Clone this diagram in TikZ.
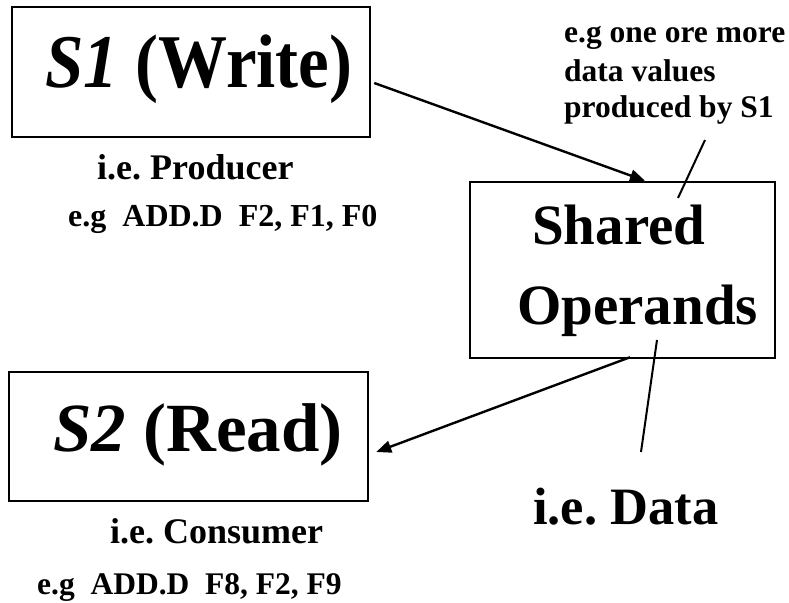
\documentclass[tikz,border=0pt]{standalone}
\usepackage{fontspec}
\setmainfont{Liberation Serif}
\usetikzlibrary{arrows.meta}
\frenchspacing
\tikzset{
  boxnode/.style={draw=black, line width=2.5pt, inner sep=0pt, rectangle},
  txt/.style={anchor=base west, inner sep=0pt, font=\bfseries},
  arr/.style={line width=2.4pt, -{Triangle[length=15pt,width=12pt]}},
  pointer/.style={line width=2pt}
}
\newcommand{\fs}[1]{\fontsize{#1}{#1}\selectfont}
\begin{document}
\begin{tikzpicture}[x=1pt,y=1pt]
\useasboundingbox (0,0) rectangle (789,602);
% boxes
\node[boxnode, minimum width=358pt, minimum height=130pt] (s1) at (191,530) {};
\node[boxnode, minimum width=305pt, minimum height=176pt] (sh) at (622.5,332) {};
\node[boxnode, minimum width=359pt, minimum height=129pt] (s2) at (188.5,165.5) {};
% texts
\node[txt] (s1t) at (45,514) {\fs{69}\scalebox{1}[1.1]{\textit{S1} (Write)}};
\node[txt] (prod) at (97,422) {\fs{36}i.e. Producer};
\node[txt] (eg1) at (68,375) {\fs{32}e.g\ \ ADD.D\ \ F2, F1, F0};
\node[txt] (ann1) at (564,559) {\fs{31.5}e.g one ore more};
\node[txt] (ann2) at (564,520) {\fs{31.5}data values};
\node[txt] (ann3) at (564,484) {\fs{31.5}produced by S1};
\node[txt] (sht1) at (532,357) {\fs{57}Shared};
\node[txt] (sht2) at (517,277) {\fs{57}Operands};
\node[txt] (s2t) at (53,150) {\fs{69}\textit{S2} (Read)};
\node[txt] (cons) at (110,59) {\fs{36}i.e. Consumer};
\node[txt] (eg2) at (37,8) {\fs{31.5}e.g\ \ ADD.D\ \ F8, F2, F9};
\node[txt] (data) at (533,77) {\fs{52.5}i.e. Data};
% connector points
\coordinate (a1s) at ([xshift=3pt,yshift=-11pt]s1.east);
\coordinate (a1e) at ([xshift=22.5pt]sh.north);
\coordinate (a2s) at ([xshift=7.5pt,yshift=2pt]sh.south);
\coordinate (a2e) at ([xshift=7pt,yshift=-15.5pt]s2.east);
\coordinate (p1s) at (705,462);
\coordinate (p1e) at (678,404);
\coordinate (p2s) at (657,262);
\coordinate (p2e) at (641,150);
% connectors
\draw[arr] (a1s) -- (a1e);
\draw[arr] (a2s) -- (a2e);
\draw[pointer] (p1s) -- (p1e);
\draw[pointer] (p2s) -- (p2e);
\end{tikzpicture}
\end{document}
